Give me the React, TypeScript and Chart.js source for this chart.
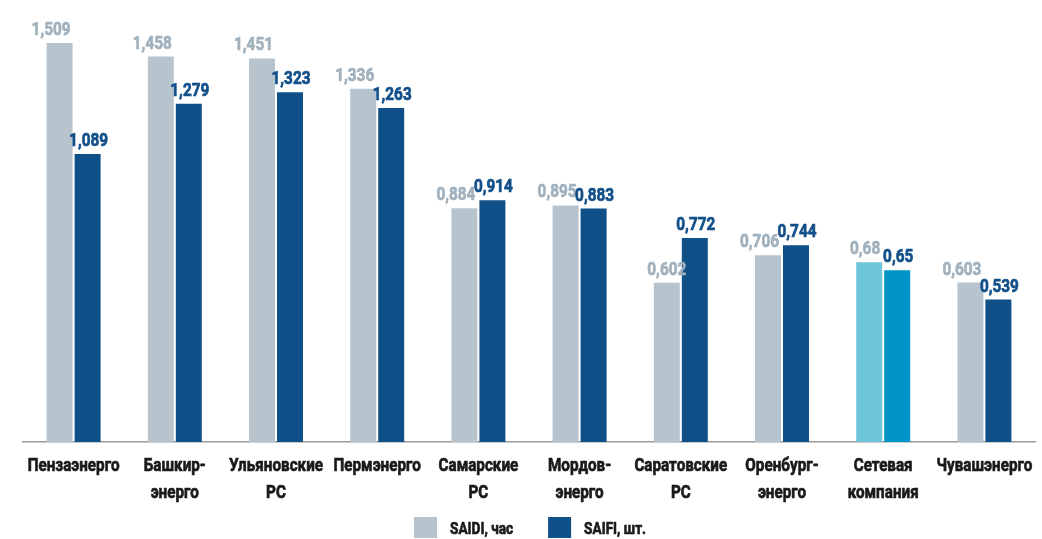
import React, { useEffect, useRef } from "react";
import { Chart, registerables } from "chart.js";

Chart.register(...registerables);

const categories: string[][] = [
  ["Пензаэнерго"],
  ["Башкир-", "энерго"],
  ["Ульяновские", "РС"],
  ["Пермэнерго"],
  ["Самарские", "РС"],
  ["Мордов-", "энерго"],
  ["Саратовские", "РС"],
  ["Оренбург-", "энерго"],
  ["Сетевая", "компания"],
  ["Чувашэнерго"],
];
const saidiValues = [1.509, 1.458, 1.451, 1.336, 0.884, 0.895, 0.602, 0.706, 0.68, 0.603];
const saifiValues = [1.089, 1.279, 1.323, 1.263, 0.914, 0.883, 0.772, 0.744, 0.65, 0.539];
const seriesNames = ["SAIDI, час", "SAIFI, шт."];
const highlightIndex = 8;

const GREY = "#b8c4cd";
const BLUE = "#0f5088";
const HL_GREY = "#6fc5d9";
const HL_BLUE = "#0094c8";
const GREY_TEXT = "#a1b1bd";
const BLUE_TEXT = "#13508a";
const FONT = "Roboto, 'Liberation Sans', sans-serif";
const WEIGHT = "bold";

const fmt = (v: number) => String(v).replace(".", ",");

let condense = 0.8;
let valueCondense = 0.85;
function calibrate(ctx: CanvasRenderingContext2D) {
  ctx.save();
  ctx.font = `${WEIGHT} 19px ${FONT}`;
  const w = ctx.measureText("Ульяновские").width;
  if (w > 0) condense = 94 / w;
  const v = ctx.measureText("1,509").width;
  if (v > 0) valueCondense = 39 / v;
  ctx.restore();
}

function drawNarrow(ctx: CanvasRenderingContext2D, text: string, x: number, y: number, k = condense) {
  ctx.save();
  ctx.translate(x, y);
  ctx.scale(k, 1);
  ctx.strokeStyle = ctx.fillStyle as string;
  ctx.lineWidth = 0.7;
  ctx.lineJoin = "round";
  ctx.fillText(text, 0, 0);
  ctx.strokeText(text, 0, 0);
  ctx.restore();
}

function narrowWidth(ctx: CanvasRenderingContext2D, text: string, k = condense) {
  return ctx.measureText(text).width * k;
}

const valueLabels = {
  id: "valueLabels",
  afterDatasetsDraw(chart: any) {
    const ctx = chart.ctx;
    calibrate(ctx);
    ctx.save();
    ctx.font = `${WEIGHT} 19px ${FONT}`;
    ctx.textBaseline = "alphabetic";
    ctx.textAlign = "center";
    const blueMeta = chart.getDatasetMeta(1);
    chart.data.datasets.forEach((ds: any, di: number) => {
      const meta = chart.getDatasetMeta(di);
      ctx.fillStyle = di === 0 ? GREY_TEXT : BLUE_TEXT;
      meta.data.forEach((bar: any, i: number) => {
        const text = fmt(ds.data[i]);
        const y = bar.y - 8;
        if (di === 0) {
          const w = narrowWidth(ctx, text, valueCondense);
          const right = bar.x + bar.width / 2;
          const blue = blueMeta.data[i];
          const blueLabelBottom = blue.y - 8;
          const conflict = bar.x + w / 2 > blue.x - blue.width / 2 && blueLabelBottom > y - 18;
          const cx = conflict ? right - 2 - w / 2 : bar.x;
          drawNarrow(ctx, text, cx, y, valueCondense);
        } else {
          drawNarrow(ctx, text, bar.x + 1, y, valueCondense);
        }
      });
    });
    ctx.restore();
  },
};

const categoryLabels = {
  id: "categoryLabels",
  afterDraw(chart: any) {
    const ctx = chart.ctx;
    const xs = chart.scales.x;
    const base = chart.chartArea.bottom;
    ctx.save();
    ctx.font = `${WEIGHT} 19px ${FONT}`;
    ctx.fillStyle = "#1a1a1a";
    ctx.textAlign = "center";
    ctx.textBaseline = "alphabetic";
    categories.forEach((lines, i) => {
      const x = xs.getPixelForValue(i);
      lines.forEach((line, j) => {
        drawNarrow(ctx, line, x, base + 29 + j * 27);
      });
    });
    ctx.restore();
  },
};

const customLegend = {
  id: "customLegend",
  afterDraw(chart: any) {
    const ctx = chart.ctx;
    const area = chart.chartArea;
    ctx.save();
    ctx.font = `${WEIGHT} 17px ${FONT}`;
    const box = 23;
    const gapText = 13;
    const gapItem = 35;
    const widths = seriesNames.map((n) => narrowWidth(ctx, n));
    const total = widths.reduce((a, w) => a + box + gapText + w, 0) + gapItem;
    let x = Math.round((area.left + area.right) / 2 - total / 2 + 1);
    const y = 517;
    const colors = [GREY, BLUE];
    seriesNames.forEach((n, i) => {
      ctx.fillStyle = colors[i];
      ctx.fillRect(x, y, box, 21);
      ctx.fillStyle = "#1a1a1a";
      ctx.textAlign = "left";
      ctx.textBaseline = "alphabetic";
      drawNarrow(ctx, n, x + box + gapText, y + 17);
      x += box + gapText + widths[i] + gapItem;
    });
    ctx.restore();
  },
};

export default function App() {
  const ref = useRef<HTMLCanvasElement | null>(null);
  useEffect(() => {
    document.body.style.margin = "0";
    const chart = new Chart(ref.current as HTMLCanvasElement, {
      type: "bar",
      data: {
        labels: categories.map((l) => l.join(" ")),
        datasets: [
          {
            label: seriesNames[0],
            data: saidiValues,
            backgroundColor: saidiValues.map((_, i) => (i === highlightIndex ? HL_GREY : GREY)),
            categoryPercentage: 56 / 101.2,
            barPercentage: 26 / 28,
          },
          {
            label: seriesNames[1],
            data: saifiValues,
            backgroundColor: saifiValues.map((_, i) => (i === highlightIndex ? HL_BLUE : BLUE)),
            categoryPercentage: 56 / 101.2,
            barPercentage: 26 / 28,
          },
        ],
      },
      options: {
        animation: false,
        responsive: false,
        maintainAspectRatio: false,
        layout: { padding: { top: 19, left: 23, right: 7, bottom: 0 } },
        plugins: { legend: { display: false }, tooltip: { enabled: false } },
        scales: {
          x: {
            grid: { display: false, drawTicks: false },
            border: { display: true, color: "#9a9a9a", width: 1.5 },
            ticks: { display: false },
            afterFit(scale: any) {
              scale.height = 97;
              scale.paddingLeft = 0;
              scale.paddingRight = 0;
            },
          },
          y: { display: false, min: 0, max: 1.6 },
        },
      },
      plugins: [valueLabels, categoryLabels, customLegend],
    });
    return () => chart.destroy();
  }, []);
  return (
    <div style={{ width: 1042, height: 539, background: "#fff" }}>
      <canvas ref={ref} width={1042} height={539} style={{ display: "block" }} />
    </div>
  );
}
